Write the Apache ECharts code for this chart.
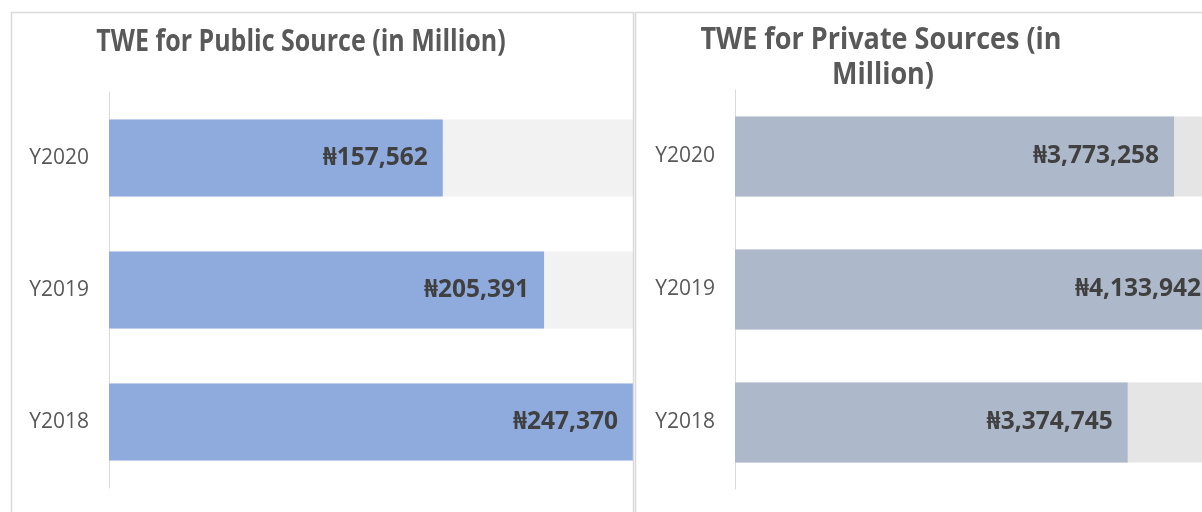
<!DOCTYPE html>
<html>
<head>
<meta charset="utf-8">
<script src="https://cdn.jsdelivr.net/npm/echarts@6/dist/echarts.min.js"></script>
<style>
  html, body {margin: 0; padding: 0; background: #fff; overflow: hidden;}
  #main {width: 1230px; height: 512px;}
</style>
</head>
<body>
<div id="main"></div>
<script>
const years = ['Y2018', 'Y2019', 'Y2020'];
const publicValues = [247370, 205391, 157562];
const privateValues = [3374745, 4133942, 3773258];

const FONT = "'Open Sans', 'Noto Sans', 'DejaVu Sans', sans-serif";
const naira = v => '\u20A6' + v.toLocaleString('en-US');

const chart = echarts.init(document.getElementById('main'));

function barSeries(idx, values, color, bg, width) {
	return {
		type: 'bar',
		xAxisIndex: idx,
		yAxisIndex: idx,
		data: values,
		barWidth: width,
		itemStyle: {color: color},
		showBackground: true,
		backgroundStyle: {color: bg},
		label: {
			show: true,
			position: 'insideRight',
			distance: 15,
			formatter: p => naira(p.value),
			color: '#404040',
			fontFamily: FONT,
			fontWeight: 'bold',
			fontSize: 24.5
		},
		silent: true
	};
}

function catAxis(idx) {
	return {
		type: 'category',
		gridIndex: idx,
		data: years,
		axisLine: {show: true, lineStyle: {color: '#d9d9d9', width: 1}},
		axisTick: {show: false},
		axisLabel: {color: '#595959', fontFamily: FONT, fontSize: 21, margin: 20}
	};
}

function titleText(text, x, y, size, sy) {
	return {
		type: 'text', x: x, y: y, scaleY: sy,
		style: {text: text, textAlign: 'center', textVerticalAlign: 'middle', fill: '#595959', font: 'bold ' + size + 'px ' + FONT}
	};
}

chart.setOption({
	animation: false,
	grid: [
		{left: 109, top: 92, width: 524, height: 396},
		{left: 735, top: 90, width: 481, height: 399}
	],
	xAxis: [
		{type: 'value', gridIndex: 0, min: 0, max: Math.max(...publicValues), show: false},
		{type: 'value', gridIndex: 1, min: 0, max: Math.max(...privateValues), show: false}
	],
	yAxis: [catAxis(0), catAxis(1)],
	series: [
		barSeries(0, publicValues, '#8faadc', '#f2f2f2', 77),
		barSeries(1, privateValues, '#adb9ca', '#e5e5e5', 80)
	],
	graphic: [
		{type: 'rect', shape: {x: 11.5, y: 12.5, width: 622, height: 540}, style: {fill: 'none', stroke: '#d9d9d9', lineWidth: 1.5}, z: 100},
		{type: 'rect', shape: {x: 635.5, y: 12.5, width: 620, height: 540}, style: {fill: 'none', stroke: '#d9d9d9', lineWidth: 1.5}, z: 100},
		titleText('TWE for Public Source (in Million)', 301, 43, 25, 1.18),
		titleText('TWE for Private Sources (in', 881, 40, 27, 1.12),
		titleText('Million)', 883, 75, 27, 1.12)
	]
});
</script>
</body>
</html>
